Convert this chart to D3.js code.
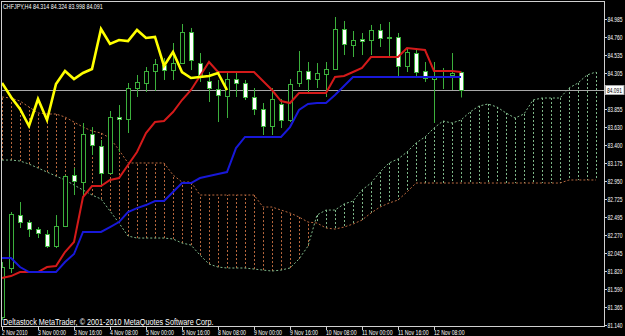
<!DOCTYPE html>
<html>
<head>
<meta charset="utf-8">
<script src="https://cdn.jsdelivr.net/npm/d3@7"></script>
<style>
  body { margin: 0; background: #000; }
  svg { display: block; }
  text { font-family: "Liberation Sans", "DejaVu Sans", sans-serif; fill: #fff; }
</style>
</head>
<body>
<svg id="chart" width="625" height="336"></svg>
<script>
// CHFJPY H4 bars, 2 Nov 08:00 .. 12 Nov 20:00
var title = "CHFJPY,H4  84.314 84.324 83.998 84.091";
var copyright = "Deltastock MetaTrader, \u00a9 2001-2010 MetaQuotes Software Corp.";

var open  = [81.236,81.853,82.519,82.431,82.343,82.280,82.129,82.381,83.023,82.934,83.538,83.387,83.048,83.752,83.727,84.117,84.180,84.331,
             84.406,84.343,84.431,84.821,84.431,84.205,84.104,84.016,84.230,84.180,84.004,83.853,83.639,83.916,83.714,84.180,84.331,84.230,
             84.293,84.356,84.859,84.658,84.733,84.721,84.847,84.746,84.759,84.394,84.557,84.331,84.230,84.255,84.281,84.314];
var high  = [81.928,82.557,82.683,82.456,82.368,82.331,82.519,83.023,83.111,83.677,83.626,83.463,83.828,83.903,84.180,84.281,84.381,84.482,
             84.494,84.683,84.922,84.872,84.557,84.318,84.218,84.318,84.318,84.218,84.117,83.928,84.117,83.979,84.230,84.582,84.444,84.431,
             84.444,85.010,84.960,84.834,84.809,84.910,84.922,84.947,84.809,84.620,84.620,84.444,84.444,84.369,84.557,84.324];
var low   = [81.198,81.790,82.356,82.243,82.230,82.104,82.104,82.368,82.771,82.746,83.274,82.897,83.035,83.312,83.551,84.004,84.067,84.079,
             84.218,84.218,84.419,84.343,84.193,83.941,83.689,83.740,84.004,83.966,83.777,83.526,83.526,83.614,83.689,84.130,84.054,84.117,
             84.004,84.343,84.532,84.507,84.532,84.532,84.633,84.507,84.268,84.318,84.243,84.193,83.677,84.104,84.092,83.998];
var close = [81.865,82.532,82.431,82.343,82.293,82.129,82.381,83.010,82.947,83.538,83.400,83.048,83.752,83.727,84.117,84.193,84.331,84.419,
             84.343,84.431,84.821,84.469,84.281,84.117,84.029,84.230,84.180,84.004,83.853,83.639,83.979,83.714,84.167,84.331,84.230,84.306,
             84.356,84.859,84.671,84.721,84.708,84.847,84.746,84.759,84.394,84.570,84.318,84.243,84.255,84.268,84.306,84.091];

// Ichimoku lines
var tenkan = [81.727,81.752,81.802,81.802,81.802,81.865,81.878,82.054,82.180,82.746,82.884,82.884,82.960,82.985,83.148,83.312,83.551,83.689,
              83.702,83.815,83.966,84.092,84.268,84.444,84.318,84.318,84.318,84.318,84.318,84.205,84.092,83.953,83.928,84.054,84.054,84.054,
              84.054,84.255,84.268,84.318,84.369,84.507,84.507,84.507,84.507,84.620,84.608,84.595,84.331,84.331,84.331,84.318];
var kijun  = [81.978,81.978,81.865,81.802,81.802,81.802,81.802,81.928,82.029,82.306,82.306,82.306,82.368,82.431,82.557,82.607,82.645,82.695,
              82.695,82.809,82.922,82.922,82.985,83.010,83.035,83.060,83.362,83.501,83.501,83.501,83.501,83.501,83.626,83.840,83.916,83.928,
              83.928,84.029,84.142,84.255,84.255,84.255,84.255,84.255,84.255,84.255,84.255,84.255,84.255,84.255,84.255,84.255];
// Senkou spans, drawn 26 bars ahead (67 bars wide)
var spanA  = [83.211,83.211,83.199,83.161,83.111,83.060,83.010,82.960,82.897,82.834,82.771,82.721,82.570,82.419,82.255,82.230,82.230,82.230,
              82.230,82.218,82.167,82.142,82.016,81.903,81.865,81.853,81.853,81.853,81.840,81.827,81.815,81.827,81.853,81.966,82.129,82.519,
              82.582,82.582,82.658,82.695,82.834,82.922,83.060,83.174,83.224,83.312,83.425,83.501,83.614,83.702,83.677,83.714,83.815,83.891,
              83.916,83.878,83.803,83.740,83.790,83.966,83.991,83.991,83.991,84.117,84.180,84.281,84.318];
var spanB  = [84.004,83.991,83.953,83.878,83.803,83.790,83.790,83.752,83.689,83.626,83.576,83.551,83.488,83.337,83.174,83.174,83.174,83.174,
              83.174,83.023,82.934,82.934,82.771,82.771,82.771,82.771,82.771,82.771,82.771,82.620,82.620,82.582,82.545,82.494,82.431,82.419,
              82.356,82.343,82.368,82.406,82.456,82.545,82.620,82.670,82.708,82.809,82.922,82.922,82.922,82.922,82.922,82.922,82.922,82.922,
              82.922,82.922,82.922,82.922,82.922,82.922,82.922,82.922,82.922,82.960,82.960,82.960,82.960];

var priceTicks = [84.985,84.760,84.535,84.305,83.855,83.630,83.400,83.175,82.950,82.725,82.495,82.270,82.045,81.820,81.590,81.365,81.140];
var timeTickBars = [0,4,8,12,16,20,24,28,32,36,40,44,48];
var timeTickLabels = ["2 Nov 2010","3 Nov 00:00","3 Nov 16:00","4 Nov 08:00","5 Nov 00:00","5 Nov 16:00","8 Nov 08:00",
                      "9 Nov 00:00","9 Nov 16:00","10 Nov 08:00","11 Nov 00:00","11 Nov 16:00","12 Nov 08:00"];

var shift = 26;
var candleGreen = "#3cb03c", kumoBrown = "#b8683e", kumoGreen = "#7fb88a";

var svg = d3.select("#chart");
svg.append("rect").attr("width", 625).attr("height", 336).attr("fill", "#000");

var x = d3.scaleLinear().domain([0, 66]).range([2, 596]);
var y = d3.scaleLinear().domain([81.140, 84.985]).range([324.7, 19]);

// squeeze a label horizontally to the narrow terminal font width
function addText(px, py, size, str, width, color) {
  var t = svg.append("text").attr("font-size", size).text(str);
  if (color) t.style("fill", color);
  var w = t.node().getComputedTextLength();
  t.attr("transform", "translate(" + px + "," + py + ") scale(" + (width / w) + ",1)");
  return t;
}

svg.append("clipPath").attr("id", "plot")
  .append("rect").attr("x", 1.5).attr("y", 1.5).attr("width", 603).attr("height", 325);

var g = svg.append("g").attr("clip-path", "url(#plot)");

// kumo hatching
g.selectAll("line.hatch")
  .data(spanA.map(function(a, i) { return {i: i, a: a, b: spanB[i]}; }))
  .enter().append("line")
    .attr("x1", function(d) { return x(d.i) + 0.5; })
    .attr("x2", function(d) { return x(d.i) + 0.5; })
    .attr("y1", function(d) { return y(d.a); })
    .attr("y2", function(d) { return y(d.b); })
    .attr("stroke", function(d) { return d.a > d.b ? kumoGreen : kumoBrown; })
    .attr("stroke-dasharray", "2,2");

var kumoLine = d3.line().x(function(d, i) { return x(i); }).y(function(d) { return y(d); });
g.append("path").attr("d", kumoLine(spanA)).attr("fill", "none")
  .attr("stroke", kumoGreen).attr("stroke-dasharray", "2,2");
g.append("path").attr("d", kumoLine(spanB)).attr("fill", "none")
  .attr("stroke", kumoBrown).attr("stroke-dasharray", "2,2");

// bid line
var bid = close[close.length - 1];
var bidY = Math.round(y(bid));
g.append("line").attr("x1", 0).attr("x2", 605)
  .attr("y1", bidY + 0.5).attr("y2", bidY + 0.5)
  .attr("stroke", "#a8a8a8");

// candles
var bars = g.selectAll("g.bar")
  .data(open.map(function(o, i) { return {i: i, o: o, h: high[i], l: low[i], c: close[i]}; }))
  .enter().append("g");

bars.append("line")
  .attr("x1", function(d) { return x(d.i) + 0.5; })
  .attr("x2", function(d) { return x(d.i) + 0.5; })
  .attr("y1", function(d) { return y(d.h); })
  .attr("y2", function(d) { return y(d.l); })
  .attr("stroke", candleGreen);

bars.append("rect")
  .attr("x", function(d) { return x(d.i) - 1.5; })
  .attr("width", 4)
  .attr("y", function(d) { return Math.round(y(Math.max(d.o, d.c))) + 0.5; })
  .attr("height", function(d) { return Math.max(1, Math.round(y(Math.min(d.o, d.c)) - y(Math.max(d.o, d.c)))); })
  .attr("fill", function(d) { return d.c >= d.o ? "#000" : "#fff"; })
  .attr("stroke", candleGreen);

// tenkan / kijun / chikou
var line = d3.line().x(function(d, i) { return x(i); }).y(function(d) { return y(d); });
g.append("path").attr("d", line(tenkan)).attr("fill", "none").attr("stroke", "#d41a1a").attr("stroke-width", 2);
g.append("path").attr("d", line(kijun)).attr("fill", "none").attr("stroke", "#1818d8").attr("stroke-width", 2);
g.append("path").attr("d", line(close.slice(shift))).attr("fill", "none")
  .attr("stroke", "#ffff00").attr("stroke-width", 2.6).attr("stroke-linejoin", "miter");

// frame
svg.append("rect").attr("x", 1.5).attr("y", 1.5).attr("width", 603).attr("height", 325)
  .attr("fill", "none").attr("stroke", "#d0d0d0");

// price axis
priceTicks.forEach(function(p) {
  var py = Math.round(y(p)) + 0.5;
  svg.append("line").attr("x1", 605).attr("x2", 607).attr("y1", py).attr("y2", py).attr("stroke", "#d0d0d0");
  addText(607.5, py + 2.5, 7, p.toFixed(3), 15);
});
svg.append("rect").attr("x", 605.5).attr("y", bidY - 4.5).attr("width", 18.5).attr("height", 9)
  .attr("fill", "#fff").attr("stroke", "#a8a8a8");
addText(607, bidY + 2.5, 7, bid.toFixed(3), 15, "#000");

// time axis
timeTickBars.forEach(function(b, k) {
  var tx = x(b);
  svg.append("line").attr("x1", tx + 0.5).attr("x2", tx + 0.5).attr("y1", 327).attr("y2", 330).attr("stroke", "#d0d0d0");
  var lbl = timeTickLabels[k];
  addText(tx, 334.5, 7, lbl, lbl.length * 2.55);
});

// title and copyright
addText(3, 8.5, 7, title, 100);
addText(3, 324.5, 9, copyright, 211);
</script>
</body>
</html>
